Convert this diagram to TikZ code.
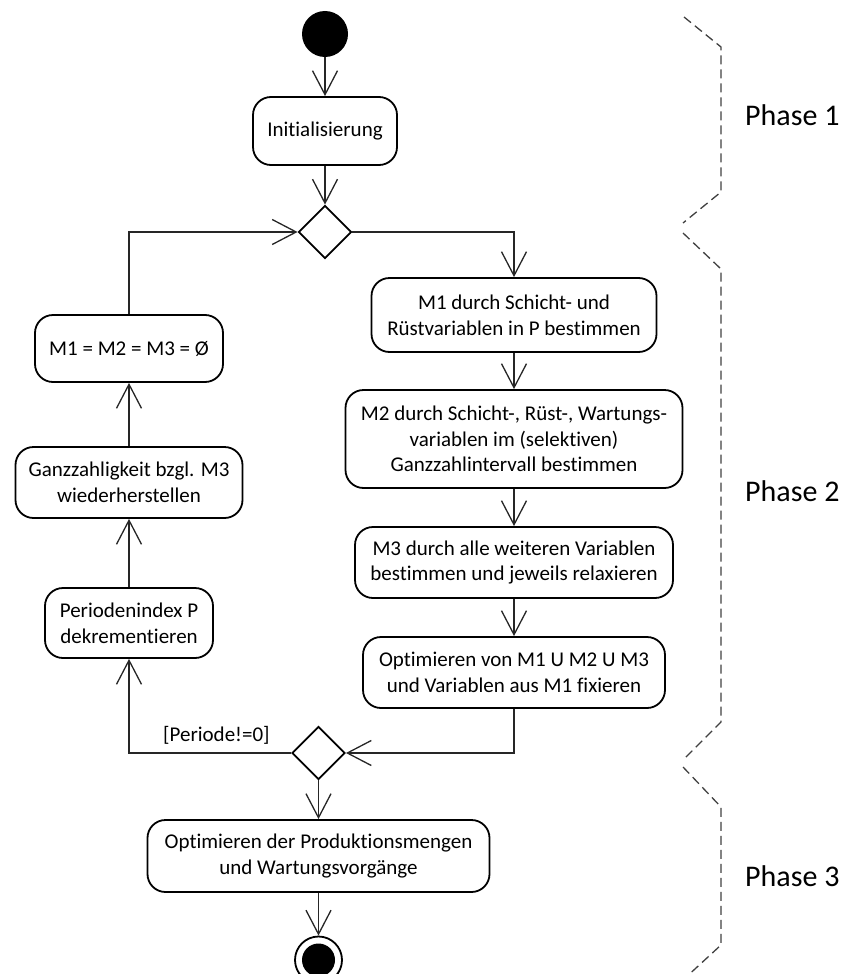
\documentclass[tikz,border=0pt]{standalone}
\usepackage{fontspec}
\setmainfont{Carlito}[Ligatures=NoCommon]
\usetikzlibrary{arrows.meta,shapes.geometric}
\begin{document}
\begin{tikzpicture}[x=1pt,y=-1pt,
  action/.style={draw=black, line width=1.8pt, rectangle, rounded corners=18pt,
    align=center, inner sep=0pt, font=\fontsize{21}{25.6}\selectfont},
  decision/.style={draw=black, line width=1.8pt, diamond, inner sep=0pt,
    minimum width=53pt, minimum height=53pt},
  flow/.style={line width=1.3pt, draw=black!85, -{Straight Barb[length=24pt,width=25pt]}},
  phasebrace/.style={line width=1.3pt, draw=black!75, dash pattern=on 9pt off 5pt},
  phaselabel/.style={anchor=base west, inner sep=0pt, font=\fontsize{30}{36}\selectfont},
  guardlabel/.style={anchor=base west, inner sep=0pt, font=\fontsize{21}{25.6}\selectfont}
]
\useasboundingbox (0,0) rectangle (846,974);

% initial node and phase 1
\node[circle, fill=black, minimum size=46pt, inner sep=0pt] (start) at (325,34) {};
\node[action, minimum width=144pt, minimum height=68pt] (init) at (325,131) {Initialisierung};
\node[decision] (d1) at (325,232) {};

% main loop, right column
\node[action, minimum width=285pt, minimum height=74pt] (m1) at (514,315)
  {M1 durch Schicht- und\\Rüstvariablen in P bestimmen};
\node[action, minimum width=337pt, minimum height=98pt] (m2) at (514,439)
  {M2 durch Schicht-, Rüst-, Wartungs-\\variablen im (selektiven)\\Ganzzahlintervall bestimmen};
\node[action, minimum width=318pt, minimum height=71pt] (m3) at (514,562.5)
  {M3 durch alle weiteren Variablen\\bestimmen und jeweils relaxieren};
\node[action, minimum width=302pt, minimum height=71pt] (opt) at (514,672.5)
  {Optimieren von M1 U M2 U M3\\und Variablen aus M1 fixieren};
\node[decision] (d2) at (318.5,753) {};

% main loop, left column
\node[action, minimum width=168pt, minimum height=70pt] (per) at (129,623)
  {Periodenindex P\\dekrementieren};
\node[action, minimum width=227pt, minimum height=71pt] (ganz) at (129,482.5)
  {Ganzzahligkeit bzgl. M3\\wiederherstellen};
\node[action, minimum width=188pt, minimum height=67pt] (reset) at (129,348.5)
  {M1 = M2 = M3 = Ø};

% phase 3 and final node
\node[action, minimum width=342pt, minimum height=72pt] (final) at (318.5,856)
  {Optimieren der Produktionsmengen\\und Wartungsvorgänge};
\node[circle, draw=black, line width=1.8pt, minimum size=47pt, inner sep=0pt] (stop) at (318.5,960) {};
\node[circle, fill=black, minimum size=33pt, inner sep=0pt] (stopdot) at (stop) {};

% control flow
\draw[flow] (start) -- (init);
\draw[flow] (init) -- (d1);
\draw[flow] (d1.east) -| (m1.north);
\draw[flow] (m1) -- (m2);
\draw[flow] (m2) -- (m3);
\draw[flow] (m3) -- (opt);
\draw[flow] (opt.south) |- (d2.east);
\draw[flow] (d2.west) -| (per.south);
\draw[flow] (per) -- (ganz);
\draw[flow] (ganz) -- (reset);
\draw[flow] (reset.north) |- (d1.west);
\draw[flow] (d2) -- (final);
\draw[flow] (final) -- (stop);

\node[guardlabel] (guard) at (163,741) {[Periode!=0]};

% phase brackets
\draw[phasebrace] (684,17) -- (721,47) -- (721,192) -- (683,223);
\draw[phasebrace] (683,233) -- (721,269) -- (721,722) -- (683,760);
\draw[phasebrace] (683,767) -- (721,807) -- (721,945) -- (683,980);

\node[phaselabel] (p1) at (745,125) {Phase 1};
\node[phaselabel] (p2) at (745,501) {Phase 2};
\node[phaselabel] (p3) at (745,886) {Phase 3};
\end{tikzpicture}
\end{document}
